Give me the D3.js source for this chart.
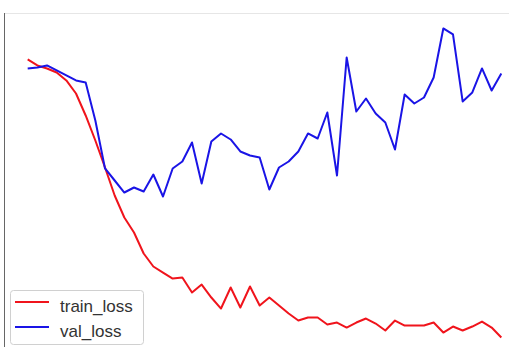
<!DOCTYPE html>
<html>
  <head>
    <script src="https://cdn.jsdelivr.net/npm/d3@7"></script>
    <style>
      body { margin: 0; background: #fff; }
    </style>
  </head>
  <body>
    <svg width="509" height="347" id="mainsvg"></svg>
    <script>
      const svg = d3.select('#mainsvg');
      const width = +svg.attr('width');
      const height = +svg.attr('height');
      // plot box runs past the right and bottom edges of the picture (cropped screenshot)
      const margin = {top: 13, left: 4};
      const innerWidth = 521;
      const innerHeight = 340;

      const trainLoss = [1.505, 1.475, 1.46, 1.44, 1.40, 1.335, 1.225, 1.10, 0.965, 0.825,
        0.715, 0.64, 0.535, 0.47, 0.44, 0.41, 0.415, 0.34, 0.38, 0.315,
        0.26, 0.365, 0.265, 0.37, 0.275, 0.315, 0.275, 0.235, 0.20, 0.215,
        0.215, 0.18, 0.19, 0.165, 0.19, 0.21, 0.185, 0.15, 0.20, 0.175,
        0.175, 0.175, 0.19, 0.14, 0.17, 0.15, 0.17, 0.195, 0.165, 0.115];
      const valLoss = [1.46, 1.465, 1.475, 1.45, 1.425, 1.40, 1.39, 1.20, 0.96, 0.90,
        0.84, 0.865, 0.845, 0.93, 0.82, 0.96, 0.995, 1.09, 0.885, 1.095,
        1.135, 1.105, 1.045, 1.025, 1.015, 0.855, 0.965, 0.995, 1.045, 1.135,
        1.11, 1.24, 0.925, 1.515, 1.245, 1.31, 1.235, 1.19, 1.055, 1.33,
        1.285, 1.315, 1.415, 1.66, 1.63, 1.295, 1.34, 1.46, 1.35, 1.435];
      const epochs = d3.range(trainLoss.length);
      const seriesNames = ['train_loss', 'val_loss'];
      const seriesColors = ['#f0141c', '#1a14e6'];

      const g = svg.append('g')
        .attr('transform', `translate(${margin.left}, ${margin.top})`);

      // matplotlib-style 5% padding on both axes
      const xExt = d3.extent(epochs);
      const xPad = (xExt[1] - xExt[0]) * 0.05;
      const xScale = d3.scaleLinear()
        .domain([xExt[0] - xPad, xExt[1] + xPad])
        .range([0, innerWidth]);

      const yExt = d3.extent(trainLoss.concat(valLoss));
      const yPad = (yExt[1] - yExt[0]) * 0.05;
      const yScale = d3.scaleLinear()
        .domain([yExt[0] - yPad, yExt[1] + yPad])
        .range([innerHeight, 0]);

      // spines
      g.append('line')
        .attr('x1', 0).attr('x2', innerWidth)
        .attr('y1', 0.5).attr('y2', 0.5)
        .attr('stroke', '#e6e6e6');
      g.append('line')
        .attr('x1', 0.5).attr('x2', 0.5)
        .attr('y1', 0).attr('y2', innerHeight)
        .attr('stroke', '#666');

      const line = d3.line()
        .x((d, i) => xScale(epochs[i]))
        .y(d => yScale(d));

      [trainLoss, valLoss].forEach((series, k) => {
        g.append('path')
          .datum(series)
          .attr('fill', 'none')
          .attr('stroke', seriesColors[k])
          .attr('stroke-width', 2)
          .attr('stroke-linejoin', 'round')
          .attr('d', line);
      });

      // legend
      const legend = svg.append('g')
        .attr('transform', 'translate(10, 290)');
      legend.append('rect')
        .attr('x', 0.5).attr('y', 0.5)
        .attr('width', 133).attr('height', 54)
        .attr('rx', 3)
        .attr('fill', 'rgba(255,255,255,0.8)')
        .attr('stroke', '#d0d0d0');
      seriesNames.forEach((name, k) => {
        const y = 12 + k * 25;
        legend.append('line')
          .attr('x1', 5).attr('x2', 39)
          .attr('y1', y).attr('y2', y)
          .attr('stroke', seriesColors[k])
          .attr('stroke-width', 2);
        legend.append('text')
          .attr('x', 50)
          .attr('y', y + 9.5)
          .attr('font-family', 'Liberation Sans, Arial, sans-serif')
          .attr('font-size', 17)
          .attr('fill', '#333')
          .text(name);
      });
    </script>
  </body>
</html>
